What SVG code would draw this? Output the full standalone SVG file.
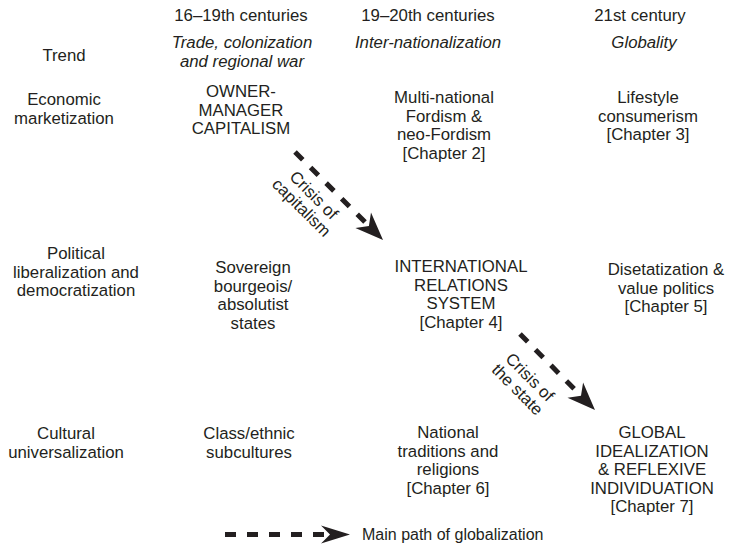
<svg xmlns="http://www.w3.org/2000/svg" width="730" height="545" viewBox="0 0 730 545">
<style>
text{font-family:"Liberation Sans",Arial,Helvetica,sans-serif;font-size:16.8px;fill:#231f20;text-anchor:middle}
.it{font-style:italic}
.dash{stroke:#231f20;stroke-width:5;stroke-dasharray:11 11;fill:none}
.head{fill:#231f20}
</style>
<rect width="730" height="545" fill="#fff"/>
<g id="headers">
<text x="241" y="20.5">16–19th centuries</text>
<text x="428" y="20.5">19–20th centuries</text>
<text x="640" y="20.5">21st century</text>
<text x="64" y="61">Trend</text>
<text class="it" x="242" y="48">Trade, colonization</text>
<text class="it" x="242" y="66.6">and regional war</text>
<text class="it" x="428" y="48">Inter-nationalization</text>
<text class="it" x="644" y="48">Globality</text>
</g>
<g id="row-economic">
<text x="64" y="105">Economic</text>
<text x="64" y="123.6">marketization</text>
</g>
<g id="owner-manager">
<text x="241" y="97">OWNER-</text>
<text x="241" y="115.6">MANAGER</text>
<text x="241" y="134.2">CAPITALISM</text>
</g>
<g id="fordism">
<text x="444" y="103">Multi-national</text>
<text x="444" y="121.6">Fordism &amp;</text>
<text x="444" y="140.2">neo-Fordism</text>
<text x="444" y="158.8">[Chapter 2]</text>
</g>
<g id="lifestyle">
<text x="648" y="103">Lifestyle</text>
<text x="648" y="121.6">consumerism</text>
<text x="648" y="140.2">[Chapter 3]</text>
</g>
<g id="row-political">
<text x="76" y="259">Political</text>
<text x="76" y="277.6">liberalization and</text>
<text x="76" y="296.2">democratization</text>
</g>
<g id="sovereign">
<text x="253" y="273">Sovereign</text>
<text x="253" y="291.6">bourgeois/</text>
<text x="253" y="310.2">absolutist</text>
<text x="253" y="328.8">states</text>
</g>
<g id="irs">
<text x="461" y="272">INTERNATIONAL</text>
<text x="461" y="290.6">RELATIONS</text>
<text x="461" y="309.2">SYSTEM</text>
<text x="461" y="327.8">[Chapter 4]</text>
</g>
<g id="disetatization">
<text x="666" y="275">Disetatization &amp;</text>
<text x="666" y="293.6">value politics</text>
<text x="666" y="312.2">[Chapter 5]</text>
</g>
<g id="row-cultural">
<text x="66" y="439">Cultural</text>
<text x="66" y="457.6">universalization</text>
</g>
<g id="class-ethnic">
<text x="249" y="439">Class/ethnic</text>
<text x="249" y="457.6">subcultures</text>
</g>
<g id="national">
<text x="448" y="438">National</text>
<text x="448" y="456.6">traditions and</text>
<text x="448" y="475.2">religions</text>
<text x="448" y="493.8">[Chapter 6]</text>
</g>
<g id="global">
<text x="652" y="438">GLOBAL</text>
<text x="652" y="456.6">IDEALIZATION</text>
<text x="652" y="475.2">&amp; REFLEXIVE</text>
<text x="652" y="493.8">INDIVIDUATION</text>
<text x="652" y="512.4">[Chapter 7]</text>
</g>
<g id="connectors">
<line class="dash" x1="295" y1="152" x2="368" y2="225"/>
<path class="head" d="M383,240 L355.4,228 L368.9,225.9 L371,212.4 Z"/>
<g transform="translate(307,202) rotate(45)"><text y="-4">Crisis of</text><text y="13.5">capitalism</text></g>
<line class="dash" x1="520" y1="334" x2="581" y2="395.8"/>
<path class="head" d="M595,410 L567.5,397.8 L581,395.8 L583.1,382.4 Z"/>
<g transform="translate(523,384) rotate(45)"><text y="-4">Crisis of</text><text y="13.5">the state</text></g>
</g>
<g id="legend">
<line class="dash" x1="225" y1="534.5" x2="331" y2="534.5"/>
<path class="head" d="M350,534.5 L321,525.5 L330,534.5 L321,543.5 Z"/>
<text x="362" y="539.5" style="text-anchor:start;font-size:16px">Main path of globalization</text>
</g>
</svg>
